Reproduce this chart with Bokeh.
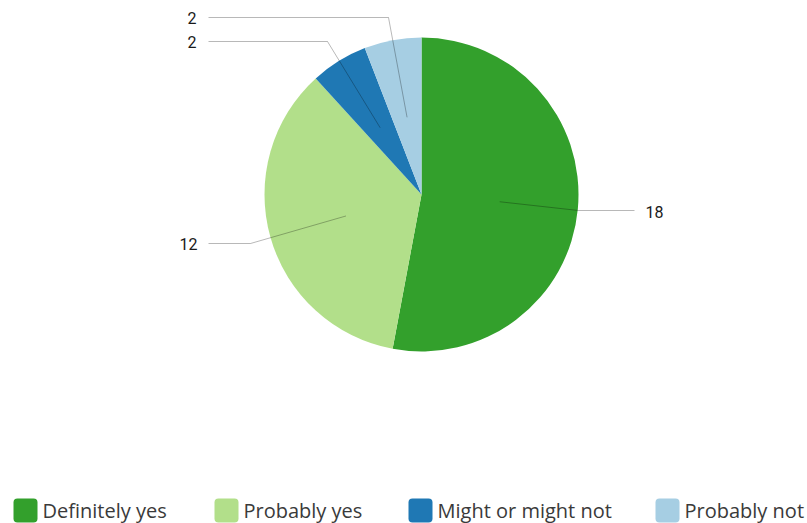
import math
from bokeh.plotting import figure
from bokeh.models import Range1d, ColumnDataSource
from bokeh.core.properties import value
from bokeh.embed import file_html
from bokeh.resources import INLINE

# ---- data ----
categories = ["Definitely yes", "Probably yes", "Might or might not", "Probably not"]
counts = [18, 12, 2, 2]
colors = ["#33a02c", "#b2df8a", "#1f78b4", "#a6cee3"]

# ---- layout (pixel coordinates, y measured from top) ----
W, H = 807, 523
CX, CY, R = 421, 194, 157
# elbow / end of leader line, label anchor, label alignment
leader_layout = [
    ((578, 210), (634, 210), (645, 211), "left"),
    ((250, 243), (208, 243), (197, 243), "right"),
    ((327, 41), (208, 41), (196, 41), "right"),
    ((388, 17), (208, 17), (196, 17), "right"),
]
legend_x = [13, 214, 408, 655]
FONT = "Roboto"
LEG_FONT = "Open Sans"

def Y(py):
    return H - py

p = figure(width=W, height=H, output_backend="svg", toolbar_location=None,
           x_range=Range1d(0, W), y_range=Range1d(0, H), min_border=0)
p.axis.visible = False
p.grid.visible = False
p.outline_line_color = None
p.background_fill_color = "white"
p.border_fill_color = "white"

total = sum(counts)
starts, ends, mids = [], [], []
cum = 0
for c in counts:
    a0 = math.pi / 2 - 2 * math.pi * cum / total
    cum += c
    a1 = math.pi / 2 - 2 * math.pi * cum / total
    starts.append(a1)
    ends.append(a0)
    mids.append((a0 + a1) / 2)

src = ColumnDataSource(dict(start=starts, end=ends, color=colors, cat=categories, n=counts))
p.wedge(x=CX, y=Y(CY), radius=R, start_angle="start", end_angle="end",
        direction="anticlock", fill_color="color", line_color="white", line_width=0,
        source=src)

# leader lines and value labels
for i, n in enumerate(counts):
    ix = CX + 0.5 * R * math.cos(mids[i])
    iy = Y(CY) + 0.5 * R * math.sin(mids[i])
    (ex, ey), (hx, hy), (lx, ly), align = leader_layout[i]
    p.line([ix, ex, hx], [iy, Y(ey), Y(hy)], line_color="black", line_alpha=0.28, line_width=1)
    p.text(x=[lx], y=[Y(ly)], text=[str(n)], text_align=align, text_baseline="middle",
           text_font=value(FONT), text_font_size="16px", text_color="#1a1a1a")

# legend
for i, cat in enumerate(categories):
    x0 = legend_x[i]
    p.quad(left=[x0], right=[x0 + 24], top=[Y(498)], bottom=[Y(522)],
           fill_color=colors[i], line_color=None, border_radius=4)
    p.text(x=[x0 + 29], y=[Y(510)], text=[cat], text_align="left", text_baseline="middle",
           text_font=value(LEG_FONT), text_font_size="20px", text_color="#3a3a3a")

open("out.html", "w").write(file_html(p, INLINE))
